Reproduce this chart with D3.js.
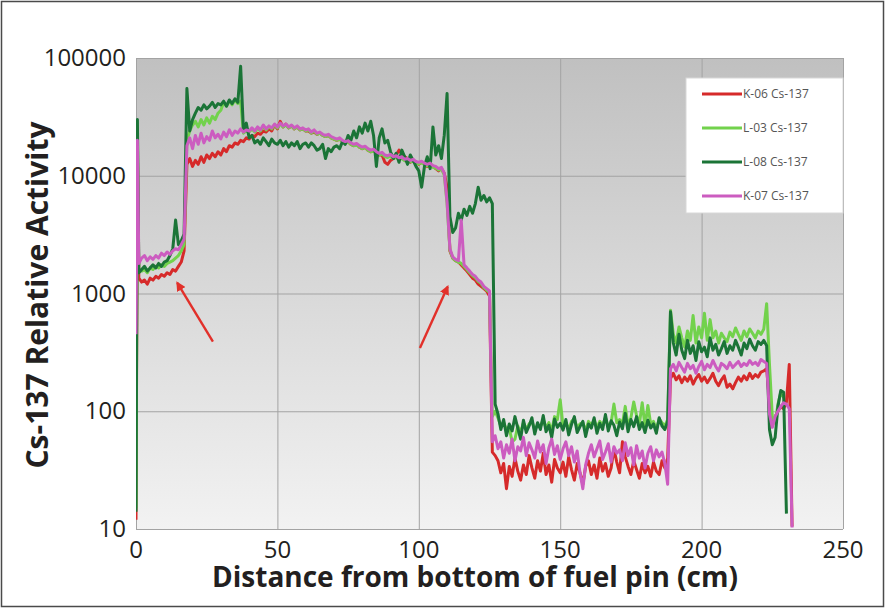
<!DOCTYPE html>
<html>
<head>
<meta charset="utf-8">
<script src="https://cdn.jsdelivr.net/npm/d3@7"></script>
<style>
  body { margin: 0; background: #fff; }
  svg { display: block; }
  text { font-family: "Open Sans", sans-serif; }
</style>
</head>
<body>
<div id="chart"></div>
<script>
// Chart size and plot area
const width = 885;
const height = 608;
const margin = { top: 58, right: 42, bottom: 79, left: 136 };
const innerWidth = width - margin.left - margin.right;
const innerHeight = height - margin.top - margin.bottom;

// Distance along the pin (cm), shared by all four scans
const distance = [0, 0.5,
  1, 2, 3, 4, 5, 6, 7, 8, 9, 10, 11, 12, 13, 14, 15, 16, 17, 18, 19, 20,
  21, 22, 23, 24, 25, 26, 27, 28, 29, 30, 31, 32, 33, 34, 35, 36, 37, 38, 39, 40,
  41, 42, 43, 44, 45, 46, 47, 48, 49, 50, 51, 52, 53, 54, 55, 56, 57, 58, 59, 60,
  61, 62, 63, 64, 65, 66, 67, 68, 69, 70, 71, 72, 73, 74, 75, 76, 77, 78, 79, 80,
  81, 82, 83, 84, 85, 86, 87, 88, 89, 90, 91, 92, 93, 94, 95, 96, 97, 98, 99, 100,
  101, 102, 103, 104, 105, 106, 107, 108, 109, 110, 111, 112, 113, 114, 115, 116, 117, 118, 119, 120,
  121, 122, 123, 124, 125, 126, 127, 128, 129, 130, 131, 132, 133, 134, 135, 136, 137, 138, 139, 140,
  141, 142, 143, 144, 145, 146, 147, 148, 149, 150, 151, 152, 153, 154, 155, 156, 157, 158, 159, 160,
  161, 162, 163, 164, 165, 166, 167, 168, 169, 170, 171, 172, 173, 174, 175, 176, 177, 178, 179, 180,
  181, 182, 183, 184, 185, 186, 187, 188, 189, 190, 191, 192, 193, 194, 195, 196, 197, 198, 199, 200,
  201, 202, 203, 204, 205, 206, 207, 208, 209, 210, 211, 212, 213, 214, 215, 216, 217, 218, 219, 220,
  221, 222, 223, 224, 225, 226, 227, 228, 229, 230, 231, 232];

// Cs-137 relative activity
const k06 = [12, 16000,
  1350, 1250, 1300, 1200, 1350, 1300, 1400, 1350, 1450, 1400,
  1500, 1450, 1600, 1550, 1700, 1850, 2300, 12500, 14000, 12000,
  13500, 12500, 14500, 13000, 15000, 14000, 15500, 14500, 16000, 15000,
  17000, 16000, 18000, 17500, 19000, 18500, 20000, 19500, 21000, 20500,
  22000, 21500, 23000, 22500, 24000, 23500, 25000, 24000, 27000, 25000,
  29000, 26000, 27500, 25500, 26500, 25000, 26000, 24500, 25000, 24000,
  24000, 23000, 23500, 22500, 23000, 22000, 21500, 22000, 21000, 20500,
  20000, 20500, 19500, 19000, 19500, 18500, 18000, 18500, 17500, 17000,
  17500, 16500, 16000, 16500, 15500, 15000, 15000, 13000, 12500, 13500,
  14000, 15000, 16500, 15500, 14500, 14000, 13000, 13500, 13000, 12500,
  13000, 12500, 12000, 12500, 12000, 11500, 11000, 11500, 10500, 8000,
  2300, 2000, 1900, 1850, 1750, 1650, 1550, 1450, 1350, 1300,
  1200, 1150, 1100, 1050, 950, 45, 42, 38, 30, 36,
  22, 34, 28, 40, 31, 26, 35, 29, 42, 33,
  27, 38, 31, 44, 29, 35, 25, 39, 33, 30,
  37, 28, 41, 32, 26, 36, 30, 24, 34, 38,
  29, 35, 27, 40, 31, 36, 28, 33, 48, 37,
  30, 55, 41, 34, 29, 38, 32, 27, 36, 30,
  34, 28, 37, 31, 29, 38, 33, 40,
  190, 210, 185, 200, 175, 195, 180, 200, 170, 190, 205, 180,
  195, 175, 190, 210, 180, 165, 185, 200, 160, 170,
  155, 175, 195, 180, 200, 185, 210, 190, 205, 195, 215, 220,
  230, 120, 75, 90, 100, 110, 105, 120, 250, 10.5];

const l03 = [15, 25000,
  1550, 1550, 1600, 1500, 1650, 1600, 1700, 1650, 1750, 1700,
  1800, 1850, 1900, 2000, 2100, 2300, 2600, 20000, 24000, 27000,
  29000, 26000, 30000, 27000, 31000, 28000, 32000, 30000, 34000, 36000,
  42000, 39000, 43000, 40000, 44000, 41000, 43000, 23000, 24000, 23500,
  25000, 23500, 25500, 24000, 26500, 24500, 26000, 25000, 27000, 25500,
  27500, 26000, 27000, 25500, 26500, 25000, 26000, 24500, 25000, 24000,
  24500, 23000, 24000, 22500, 23000, 22000, 21500, 22000, 21000, 20500,
  20000, 20500, 19500, 19000, 19300, 18500, 18000, 18300, 17500, 17000,
  17300, 16500, 16000, 16300, 15500, 15000, 15300, 14500, 14300, 14700,
  14000, 14300, 13800, 14000, 13400, 13600, 13100, 13400, 12800, 12600,
  12900, 12400, 12100, 12400, 11800, 11600, 11200, 11400, 10200, 5800,
  2350, 2000, 1900, 1850, 1800, 1700, 1600, 1500, 1420, 1360,
  1270, 1220, 1120, 1070, 1020, 90, 100, 88, 75, 80,
  70, 72, 55, 58, 75, 66, 80, 70, 78, 82,
  70, 76, 74, 85, 72, 80, 68, 90, 85, 125,
  75, 80, 70, 82, 86, 72, 78, 80, 68, 82,
  76, 84, 72, 82, 76, 88, 74, 80, 115, 80,
  85, 78, 110, 75, 88, 120, 92, 78, 118, 74,
  112, 78, 82, 70, 86, 80, 75, 85,
  720, 450, 380, 520, 420, 350, 480, 400, 650, 380, 520, 420,
  680, 400, 600, 420, 480, 380, 460, 420, 390, 470,
  430, 510, 450, 400, 480, 430, 500, 460, 420, 480, 450, 500,
  820, 250, 90, 80, 115, 145, 130, null, null, null];

const l08 = [14, 30000,
  1500, 1600, 1700, 1550, 1650, 1750, 1650, 1800, 1700, 1850,
  1900, 2100, 2400, 4200, 2600, 2800, 3200, 55000, 24000, 30000,
  34000, 38000, 36000, 40000, 37000, 39000, 42000, 38000, 41000, 40000,
  43000, 39000, 44000, 41000, 45000, 42000, 85000, 24000, 28000, 21000,
  22000, 19000, 20000, 18500, 21000, 19500, 18000, 20500, 19000, 18500,
  20000, 18000, 19500, 17500, 19000, 18000, 19500, 17000, 18500, 19000,
  17500, 19000, 18000, 16500, 17000, 18500, 14000, 17000, 16000, 17500,
  18000, 17000, 19500, 18500, 22000, 20000, 24000, 21000, 26000, 23000,
  28000, 24000, 29000, 22000, 12000, 21000, 25000, 19000, 20000, 16000,
  14000, 15500, 13000, 16500, 14500, 12500, 15000, 13500, 12000, 11000,
  8000, 12000, 14500, 11500, 26000, 15000, 18000, 14000, 22000, 50000,
  4500, 3300, 3600, 4800, 4200, 5200, 4600, 5500, 4800, 5800,
  8000, 6200, 6800, 6000, 6500, 5800, 115, 95, 70, 85,
  62, 78, 68, 90, 72, 58, 84, 66, 75, 88,
  64, 80, 70, 92, 67, 76, 60, 86, 73, 79,
  69, 85, 63, 77, 90, 66, 74, 82, 61, 78,
  72, 88, 65, 79, 70, 94, 68, 83, 76, 62,
  81, 71, 96, 67, 85, 74, 90, 70, 80, 66,
  84, 72, 78, 65, 88, 75, 70, 82,
  700, 380, 300, 450, 330, 280, 400, 310, 360, 270, 390, 320,
  350, 290, 420, 330, 370, 300, 340, 390, 310, 360,
  330, 400, 350, 300, 380, 340, 410, 360, 330, 390, 370, 400,
  360, 70, 52, 60, 110, 150, 145, 13.5, null, null];

const k07 = [450, 20000,
  1800, 2000, 2100, 1900, 2050, 1950, 2100, 2000, 2200, 2100,
  2250, 2150, 2300, 2400, 2350, 2600, 2900, 18000, 21000, 17000,
  22000, 18500, 23000, 19000, 21500, 20000, 24000, 21000, 22500, 20500,
  23500, 21500, 24500, 22000, 24000, 23000, 25000, 23500, 24500, 24000,
  25500, 24000, 26000, 24500, 27000, 25000, 26500, 25500, 27500, 26000,
  28000, 26500, 27500, 26000, 27000, 25500, 26500, 25000, 25500, 24500,
  25000, 23500, 24500, 23000, 23500, 22500, 22000, 22500, 21500, 21000,
  20500, 21000, 20000, 19500, 19800, 19000, 18500, 18800, 18000, 17500,
  17800, 17000, 16500, 16800, 16000, 15500, 15800, 15000, 14800, 15200,
  14500, 14800, 14200, 14500, 13800, 14000, 13500, 13800, 13200, 13000,
  13300, 12800, 12500, 12800, 12200, 12000, 11500, 11800, 10500, 6000,
  2400, 2050, 1950, 1900, 4200, 1750, 1650, 1550, 1450, 1400,
  1300, 1250, 1150, 1100, 1050, 55, 62, 48, 55, 40,
  52, 44, 58, 38, 50, 46, 60, 42, 54, 47,
  40, 56, 45, 52, 36, 49, 58, 43, 51, 39,
  48, 55, 42, 50, 37, 46, 30, 22, 35, 44,
  52, 41, 48, 56, 39, 45, 53, 37, 50, 44,
  47, 38, 54, 42, 49, 35, 51, 40, 46, 33,
  44, 50, 38, 47, 41, 45, 36, 24,
  230, 250, 220, 260, 235, 215, 255, 230, 245, 210, 240, 265,
  225, 250, 235, 270, 240, 220, 255, 245, 230, 260,
  235, 250, 265, 240, 255, 245, 270, 250, 260, 245, 275, 265,
  255, 95, 73, 90, 100, 110, 118, 115, 105, 10.3];

const seriesNames = ["K-06 Cs-137", "L-03 Cs-137", "L-08 Cs-137", "K-07 Cs-137"];
const seriesValues = [k06, l03, l08, k07];
const seriesColors = ["#d62a2a", "#72d24c", "#1b7437", "#cc5cc0"];

// Axis ticks
const xTicks = [0, 50, 100, 150, 200, 250];
const yTicks = [10, 100, 1000, 10000, 100000];

// Red arrows pointing at the pin ends, in data coordinates
const arrows = [
  { x1: 27.2, y1: 390, x2: 14.6, y2: 1230 },
  { x1: 100.4, y1: 345, x2: 110.2, y2: 1140 }
];

const svg = d3.select('#chart')
  .append('svg')
  .attr('width', width)
  .attr('height', height);

// outer frame
svg.append('rect')
  .attr('x', 1.5).attr('y', 1.5)
  .attr('width', width - 3).attr('height', height - 3)
  .attr('fill', '#fff')
  .attr('stroke', '#4a4a4a')
  .attr('stroke-width', 1.5);

const defs = svg.append('defs');
const grad = defs.append('linearGradient')
  .attr('id', 'plotbg')
  .attr('x1', 0).attr('y1', 0).attr('x2', 0).attr('y2', 1);
grad.append('stop').attr('offset', '0%').attr('stop-color', '#c0c0c0');
grad.append('stop').attr('offset', '100%').attr('stop-color', '#f2f2f2');

defs.append('clipPath').attr('id', 'plotclip')
  .append('rect')
  .attr('width', innerWidth)
  .attr('height', innerHeight);

defs.append('marker')
  .attr('id', 'arrowhead')
  .attr('viewBox', '0 -5 10 10')
  .attr('refX', 8)
  .attr('refY', 0)
  .attr('markerWidth', 4)
  .attr('markerHeight', 4)
  .attr('orient', 'auto')
  .append('path')
  .attr('d', 'M0,-5L10,0L0,5Z')
  .attr('fill', '#e2302a');

const g = svg.append('g')
  .attr('transform', `translate(${margin.left},${margin.top})`);

// scales
const xScale = d3.scaleLinear()
  .domain([0, 250])
  .range([0, innerWidth]);

const yScale = d3.scaleLog()
  .domain([10, 100000])
  .range([innerHeight, 0]);

// plot background
g.append('rect')
  .attr('width', innerWidth)
  .attr('height', innerHeight)
  .attr('fill', 'url(#plotbg)');

// gridlines
g.append('g')
  .attr('class', 'grid')
  .attr('transform', `translate(0,${innerHeight})`)
  .call(d3.axisBottom(xScale).tickValues(xTicks).tickSize(-innerHeight).tickFormat(''))
  .call(a => a.select('.domain').remove())
  .selectAll('line').attr('stroke', '#a3a3a3');

g.append('g')
  .attr('class', 'grid')
  .call(d3.axisLeft(yScale).tickValues(yTicks).tickSize(-innerWidth).tickFormat(''))
  .call(a => a.select('.domain').remove())
  .selectAll('line').attr('stroke', '#a3a3a3');

// tick labels
g.selectAll('.x-label')
  .data(xTicks)
  .enter()
  .append('text')
  .attr('class', 'x-label')
  .attr('x', d => xScale(d))
  .attr('y', innerHeight + 29)
  .attr('text-anchor', 'middle')
  .style('font-size', '24px')
  .style('fill', '#231f20')
  .text(d => d);

g.selectAll('.y-label')
  .data(yTicks)
  .enter()
  .append('text')
  .attr('class', 'y-label')
  .attr('x', -10)
  .attr('y', d => yScale(d) + 8)
  .attr('text-anchor', 'end')
  .style('font-size', '24px')
  .style('fill', '#231f20')
  .text(d => d);

// axis titles
svg.append('text')
  .attr('x', 475)
  .attr('y', 587)
  .attr('text-anchor', 'middle')
  .style('font-size', '28px')
  .style('font-weight', 'bold')
  .style('fill', '#231f20')
  .text('Distance from bottom of fuel pin (cm)');

svg.append('text')
  .attr('transform', 'translate(48,295) rotate(-90)')
  .attr('text-anchor', 'middle')
  .style('font-size', '30px')
  .style('font-weight', 'bold')
  .style('fill', '#231f20')
  .text('Cs-137 Relative Activity');

// the four scans
const line = d3.line()
  .defined(d => d[1] != null)
  .x(d => xScale(d[0]))
  .y(d => yScale(d[1]));

const plot = g.append('g').attr('clip-path', 'url(#plotclip)');

seriesValues.forEach((vals, i) => {
  const pts = distance.map((d, j) => [d, vals[j]]);
  plot.append('path')
    .datum(pts)
    .attr('d', line)
    .attr('fill', 'none')
    .attr('stroke', seriesColors[i])
    .attr('stroke-width', 3)
    .attr('stroke-linejoin', 'round');
});

// arrows
g.selectAll('.arrow')
  .data(arrows)
  .enter()
  .append('line')
  .attr('class', 'arrow')
  .attr('x1', d => xScale(d.x1))
  .attr('y1', d => yScale(d.y1))
  .attr('x2', d => xScale(d.x2))
  .attr('y2', d => yScale(d.y2))
  .attr('stroke', '#e2302a')
  .attr('stroke-width', 2.4)
  .attr('marker-end', 'url(#arrowhead)');

// legend
const legend = svg.append('g')
  .attr('transform', 'translate(686,78)');

legend.append('rect')
  .attr('width', 157)
  .attr('height', 135)
  .attr('fill', '#fff')
  .attr('stroke', '#d8d8d8');

seriesNames.forEach((name, i) => {
  const row = legend.append('g')
    .attr('transform', `translate(0,${16 + i * 34})`);
  row.append('line')
    .attr('x1', 16).attr('x2', 56)
    .attr('stroke', seriesColors[i])
    .attr('stroke-width', 3);
  row.append('text')
    .attr('x', 57)
    .attr('dy', '0.35em')
    .style('font-size', '12px')
    .style('fill', '#555')
    .text(name);
});
</script>
</body>
</html>
